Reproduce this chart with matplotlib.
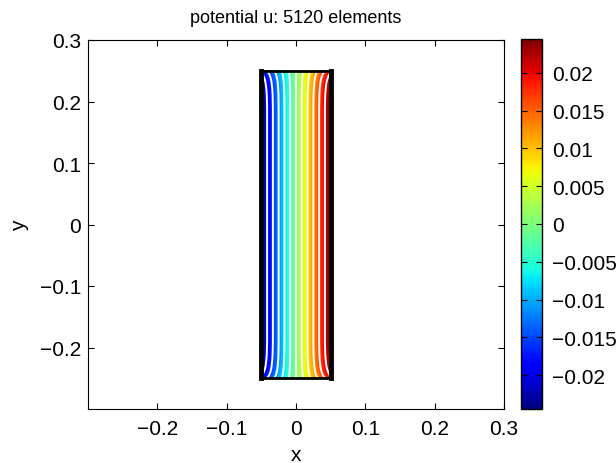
import matplotlib
matplotlib.use("Agg")
import matplotlib.pyplot as plt
import numpy as np

plt.rcParams['font.family'] = ['Liberation Sans', 'DejaVu Sans']
plt.rcParams['font.size'] = 15

# potential across the strip at mid height
x_pts = [-0.05, -0.025, 0.0, 0.025, 0.05]
u_mid = [-0.0245, -0.01225, 0.0, 0.01225, 0.0245]
# how much the potential spread shrinks near the top/bottom ends
y_pts = [-0.25, -0.245, -0.24, -0.235, -0.23, -0.22, -0.21, -0.19,
         0.19, 0.21, 0.22, 0.23, 0.235, 0.24, 0.245, 0.25]
shrink = [0.80, 0.86, 0.90, 0.93, 0.95, 0.975, 0.99, 1.0,
          1.0, 0.99, 0.975, 0.95, 0.93, 0.90, 0.86, 0.80]

umin, umax = -0.0245, 0.0245
levels = np.linspace(umin, umax, 13)[1:-1]

X, Y = np.meshgrid(x_pts, y_pts)
U = np.outer(shrink, u_mid)

fig = plt.figure(figsize=(6.16, 4.64), dpi=100)
ax = fig.add_axes([88/616, 54/464, 416/616, 369/464])
cax = fig.add_axes([521/616, 54/464, 21/616, 370/464])

cf = ax.contourf(X, Y, U, levels=np.linspace(umin, umax, 200), cmap='jet',
                 vmin=umin, vmax=umax)
ax.contour(X, Y, U, levels=levels, colors='white', linewidths=1.4,
           linestyles='solid')

# boundary of the domain
ax.plot([-0.05, 0.05], [0.25, 0.25], color='black', lw=2)
ax.plot([-0.05, 0.05], [-0.25, -0.25], color='black', lw=2)
ax.plot([-0.05, -0.05], [-0.25, 0.25], color='black', lw=3.5)
ax.plot([0.05, 0.05], [-0.25, 0.25], color='black', lw=3.5)

ticks = [-0.2, -0.1, 0, 0.1, 0.2, 0.3]
tick_labels = ['\u22120.2', '\u22120.1', '0', '0.1', '0.2', '0.3']
ax.set_xlim(-0.3, 0.3)
ax.set_ylim(-0.3, 0.3)
ax.set_xticks(ticks)
ax.set_xticklabels(tick_labels)
ax.set_yticks(ticks)
ax.set_yticklabels(tick_labels)
ax.tick_params(direction='in', top=True, right=True, length=4, labelsize=15)
ax.tick_params(axis='x', pad=7)
ax.tick_params(axis='y', pad=5)
ax.set_xlabel('x', fontsize=15, labelpad=5)
ax.set_ylabel('y', fontsize=15, labelpad=8)
ax.set_title('potential u: 5120 elements', fontsize=13, pad=13)

cb_ticks = [-0.02, -0.015, -0.01, -0.005, 0, 0.005, 0.01, 0.015, 0.02]
cb_labels = ['\u22120.02', '\u22120.015', '\u22120.01', '\u22120.005', '0',
             '0.005', '0.01', '0.015', '0.02']
cb = fig.colorbar(cf, cax=cax)
cb.set_ticks(cb_ticks)
cb.set_ticklabels(cb_labels)
cax.tick_params(direction='in', left=True, right=True, length=4, labelsize=15, pad=7)
cb.outline.set_linewidth(1)

fig.savefig('out.png', dpi=100)
